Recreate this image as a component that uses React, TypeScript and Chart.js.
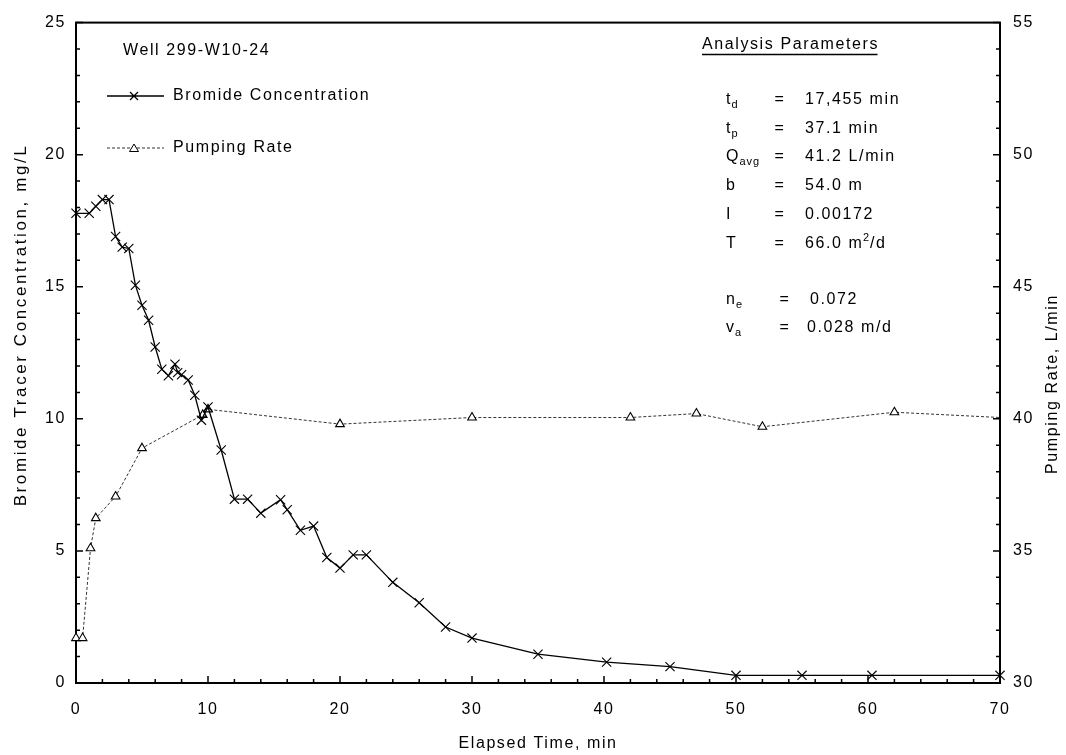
import React, { useEffect, useRef } from 'react';
import { Chart, registerables } from 'chart.js';

Chart.register(...registerables);

// ---- data ----
const bromideTime = [0, 1, 1.5, 2, 2.5, 3, 3.5, 4, 4.5, 5, 5.5, 6, 6.5, 7, 7.5, 7.7, 8, 8.5, 9, 9.5, 10, 11, 12, 13, 14, 15.5, 16, 17, 18, 19, 20, 21, 22, 24, 26, 28, 30, 35, 40.2, 45, 50, 55, 60.3, 70];
const bromideConc = [17.78, 17.78, 18.05, 18.3, 18.3, 16.9, 16.5, 16.45, 15.06, 14.3, 13.73, 12.72, 11.88, 11.63, 12.07, 11.75, 11.67, 11.47, 10.89, 9.95, 10.45, 8.82, 6.96, 6.96, 6.43, 6.94, 6.56, 5.78, 5.94, 4.75, 4.35, 4.85, 4.85, 3.81, 3.04, 2.12, 1.7, 1.09, 0.79, 0.62, 0.29, 0.29, 0.29, 0.29];

const pumpTime = [0, 0.5, 1.1, 1.5, 3, 5, 9.6, 10, 20, 30, 42, 47, 52, 62, 70];
const pumpRate = [31.7, 31.7, 35.1, 36.24, 37.06, 38.89, 40.15, 40.36, 39.8, 40.05, 40.05, 40.2, 39.7, 40.25, 40.05];
const pumpMarkerShown = [1, 1, 1, 1, 1, 1, 1, 1, 1, 1, 1, 1, 1, 1, 0];

const xRange = [0, 70];
const xMajorStep = 10;
const xMinorStep = 2;
const leftRange = [0, 25];
const rightRange = [30, 55];
const yMajorStep = 5;
const yMinorStep = 1;

const seriesNames = ['Bromide Concentration', 'Pumping Rate'];
const wellName = 'Well 299-W10-24';
const xTitle = 'Elapsed Time, min';
const leftTitle = 'Bromide Tracer Concentration, mg/L';
const rightTitle = 'Pumping Rate, L/min';
const paramsHeading = 'Analysis Parameters';
const paramSymbols = ['t', 't', 'Q', 'b', 'I', 'T', 'n', 'v'];
const paramSubscripts = ['d', 'p', 'avg', '', '', '', 'e', 'a'];
const paramValues = ['17,455 min', '37.1 min', '41.2 L/min', '54.0 m', '0.00172', '66.0 m^2/d', '0.072', '0.028 m/d'];

const FONT = '"Liberation Sans", Arial, sans-serif';
const SPACING = '1.6px';

function fontStr(size: number) {
  return `${size}px ${FONT}`;
}

const overlay = {
  id: 'overlay',
  beforeDraw(chart: any) {
    chart.ctx.letterSpacing = SPACING;
  },
  beforeDatasetsDraw(chart: any) {
    const { ctx, chartArea: a, scales } = chart;
    ctx.save();
    ctx.strokeStyle = '#000';
    ctx.lineWidth = 2;
    ctx.strokeRect(a.left, a.top, a.right - a.left, a.bottom - a.top);
    ctx.lineWidth = 1.5;
    ctx.beginPath();
    const sx = scales.x;
    for (let v = xRange[0]; v <= xRange[1] + 1e-9; v += xMinorStep) {
      const px = sx.getPixelForValue(v);
      const len = Math.abs(v % xMajorStep) < 1e-9 ? 7 : 4;
      ctx.moveTo(px, a.bottom);
      ctx.lineTo(px, a.bottom - len);
    }
    const sy = scales.y;
    for (let v = leftRange[0]; v <= leftRange[1] + 1e-9; v += yMinorStep) {
      const py = sy.getPixelForValue(v);
      const len = Math.abs(v % yMajorStep) < 1e-9 ? 7 : 4;
      ctx.moveTo(a.left, py);
      ctx.lineTo(a.left + len, py);
    }
    const sy1 = scales.y1;
    for (let v = rightRange[0]; v <= rightRange[1] + 1e-9; v += yMinorStep) {
      const py = sy1.getPixelForValue(v);
      const len = Math.abs(v % yMajorStep) < 1e-9 ? 7 : 4;
      ctx.moveTo(a.right, py);
      ctx.lineTo(a.right - len, py);
    }
    ctx.stroke();
    ctx.restore();
  },
  afterDraw(chart: any) {
    const { ctx } = chart;
    ctx.save();
    ctx.letterSpacing = SPACING;
    ctx.fillStyle = '#000';
    ctx.strokeStyle = '#000';

    // rotated axis titles
    ctx.textAlign = 'center';
    ctx.textBaseline = 'middle';
    ctx.save();
    ctx.font = fontStr(17);
    ctx.letterSpacing = '2.6px';
    ctx.translate(21, 325);
    ctx.rotate(-Math.PI / 2);
    ctx.fillText(leftTitle, 0, 0);
    ctx.restore();
    ctx.save();
    ctx.font = fontStr(16);
    ctx.translate(1053, 384);
    ctx.rotate(-Math.PI / 2);
    ctx.fillText(rightTitle, 0, 0);
    ctx.restore();

    // well name + legend
    ctx.textAlign = 'left';
    ctx.textBaseline = 'middle';
    ctx.font = fontStr(16);
    ctx.fillText(wellName, 123, 51);

    ctx.lineWidth = 1.3;
    ctx.beginPath();
    ctx.moveTo(107, 96);
    ctx.lineTo(164, 96);
    ctx.moveTo(134 - 4, 96 - 4);
    ctx.lineTo(134 + 4, 96 + 4);
    ctx.moveTo(134 - 4, 96 + 4);
    ctx.lineTo(134 + 4, 96 - 4);
    ctx.stroke();
    ctx.fillText(seriesNames[0], 173, 96);

    ctx.save();
    ctx.lineWidth = 1;
    ctx.strokeStyle = '#333';
    ctx.setLineDash([3, 2]);
    ctx.beginPath();
    ctx.moveTo(107, 148);
    ctx.lineTo(164, 148);
    ctx.stroke();
    ctx.setLineDash([]);
    ctx.fillStyle = '#fff';
    ctx.strokeStyle = '#000';
    ctx.beginPath();
    ctx.moveTo(134, 144);
    ctx.lineTo(138.5, 151.5);
    ctx.lineTo(129.5, 151.5);
    ctx.closePath();
    ctx.fill();
    ctx.stroke();
    ctx.restore();
    ctx.fillText(seriesNames[1], 173, 148);

    // analysis parameters
    ctx.textBaseline = 'alphabetic';
    ctx.font = fontStr(16);
    ctx.fillText(paramsHeading, 702, 49);
    const hw = ctx.measureText(paramsHeading).width - 1.6;
    ctx.lineWidth = 1.5;
    ctx.beginPath();
    ctx.moveTo(702, 54.5);
    ctx.lineTo(702 + hw, 54.5);
    ctx.stroke();

    const rowY = [98, 127, 155, 184, 213, 242, 298, 326];
    const eqX = [780, 780, 780, 780, 780, 780, 785, 785];
    const valX = [805, 805, 805, 805, 805, 805, 810, 807];
    for (let i = 0; i < paramSymbols.length; i++) {
      const base = rowY[i] + 5.5;
      ctx.font = fontStr(16);
      ctx.textAlign = 'left';
      ctx.fillText(paramSymbols[i], 726, base);
      const w = ctx.measureText(paramSymbols[i]).width - 1.6;
      if (paramSubscripts[i]) {
        ctx.font = fontStr(11);
        ctx.letterSpacing = '1px';
        ctx.fillText(paramSubscripts[i], 726 + w + 1, base + 4);
        ctx.letterSpacing = SPACING;
      }
      ctx.font = fontStr(16);
      ctx.textAlign = 'center';
      ctx.fillText('=', eqX[i], base);
      ctx.textAlign = 'left';
      const parts = paramValues[i].split('^');
      if (parts.length === 1) {
        ctx.fillText(parts[0], valX[i], base);
      } else {
        let x = valX[i];
        ctx.fillText(parts[0], x, base);
        x += ctx.measureText(parts[0]).width - 0.6;
        ctx.font = fontStr(11);
        ctx.letterSpacing = '1px';
        ctx.fillText(parts[1].charAt(0), x, base - 7);
        x += ctx.measureText(parts[1].charAt(0)).width;
        ctx.font = fontStr(16);
        ctx.letterSpacing = SPACING;
        ctx.fillText(parts[1].slice(1), x, base);
      }
    }
    ctx.restore();
  },
};

export default function App() {
  const ref = useRef<HTMLCanvasElement>(null);
  useEffect(() => {
    const canvas = ref.current;
    if (!canvas) return;
    Chart.defaults.font.family = FONT;
    Chart.defaults.font.size = 16;
    Chart.defaults.color = '#000';
    const chart = new Chart(canvas, {
      type: 'line',
      data: {
        datasets: [
          {
            label: seriesNames[0],
            data: bromideTime.map((t, i) => ({ x: t, y: bromideConc[i] })),
            yAxisID: 'y',
            borderColor: '#000',
            borderWidth: 1.3,
            pointStyle: 'crossRot',
            pointRadius: 6.5,
            pointBorderColor: '#000',
            pointBorderWidth: 1.1,
            pointBackgroundColor: '#000',
            tension: 0,
            clip: false,
          },
          {
            label: seriesNames[1],
            data: pumpTime.map((t, i) => ({ x: t, y: pumpRate[i] })),
            yAxisID: 'y1',
            borderColor: '#333',
            borderWidth: 1,
            borderDash: [3, 2],
            pointStyle: 'triangle',
            pointRadius: pumpMarkerShown.map((s) => (s ? 5 : 0)),
            pointBorderColor: '#000',
            pointBorderWidth: 1.1,
            pointBackgroundColor: '#fff',
            tension: 0,
            clip: false,
          },
        ],
      },
      options: {
        responsive: false,
        animation: false,
        devicePixelRatio: 1,
        layout: { padding: { top: 14, left: 0, right: 0, bottom: 0 } },
        plugins: {
          legend: { display: false },
          tooltip: { enabled: false },
        },
        scales: {
          x: {
            type: 'linear',
            min: xRange[0],
            max: xRange[1],
            afterFit: (s: any) => {
              s.height = 72;
            },
            grid: { display: false, drawTicks: false },
            border: { display: false },
            ticks: { stepSize: xMajorStep, padding: 17, font: { size: 16 }, maxRotation: 0 },
            title: { display: true, text: xTitle, font: { size: 16 }, padding: { top: 0, bottom: 2 } },
          },
          y: {
            type: 'linear',
            position: 'left',
            min: leftRange[0],
            max: leftRange[1],
            afterFit: (s: any) => {
              s.width = 76;
            },
            grid: { display: false, drawTicks: false },
            border: { display: false },
            ticks: { stepSize: yMajorStep, padding: 10, font: { size: 16 } },
          },
          y1: {
            type: 'linear',
            position: 'right',
            min: rightRange[0],
            max: rightRange[1],
            afterFit: (s: any) => {
              s.width = 66;
            },
            grid: { display: false, drawTicks: false },
            border: { display: false },
            ticks: { stepSize: yMajorStep, padding: 13, font: { size: 16 } },
          },
        },
      },
      plugins: [overlay],
    } as any);
    return () => chart.destroy();
  }, []);
  return (
    <div style={{ position: 'absolute', left: 0, top: 0, width: 1066, height: 755, background: '#fff' }}>
      <canvas ref={ref} width={1066} height={755} style={{ display: 'block', width: 1066, height: 755 }} />
    </div>
  );
}
